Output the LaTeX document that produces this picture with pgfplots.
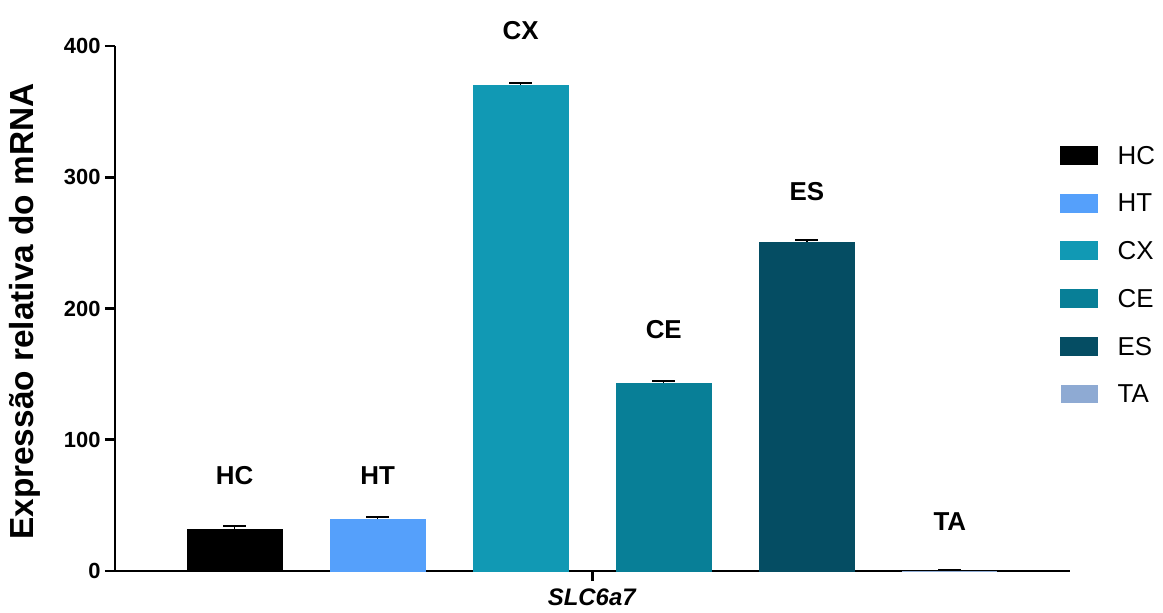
\documentclass[border=0pt]{standalone}
\usepackage{pgfplots}
\pgfplotsset{compat=1.18}
\usepackage{fontspec}
\setmainfont{Liberation Sans}
\definecolor{cHC}{HTML}{000000}
\definecolor{cHT}{HTML}{55A0FB}
\definecolor{cCX}{HTML}{1199B4}
\definecolor{cCE}{HTML}{087F97}
\definecolor{cES}{HTML}{054D63}
\definecolor{cTA}{HTML}{8EAAD3}
\begin{document}
\begin{tikzpicture}
\begin{axis}[
  at={(0,0)}, anchor=south west,
  scale only axis, width=955bp, height=525bp,
  xmin=-0.836, xmax=5.84, ymin=0, ymax=400,
  axis lines=left,
  axis line style={-, line width=2.8bp, black},
  ytick={0,100,200,300,400},
  xtick={2.5}, xticklabels={\textbf{\textit{SLC6a7}}},
  xticklabel style={font=\fontsize{24}{24}\selectfont, yshift=-4bp},
  tick align=outside, major tick length=10bp,
  tick style={line width=2.8bp, black},
  yticklabel style={font=\fontsize{22}{22}\selectfont\bfseries, xshift=-1bp},
  /pgf/number format/assume math mode=true,
  ylabel={\textbf{Expressão relativa do mRNA}},
  ylabel style={at={(axis description cs:-0.094,0.494)}, anchor=center, font=\fontsize{33.5}{33.5}\selectfont},
  ybar, bar width=95bp, bar shift=0pt,
  clip=false,
  legend image code/.code={\fill[#1] (0bp,-9bp) rectangle (37bp,9bp);},
  legend style={draw=none, fill=none, at={(axis description cs:0.9865,0.814)}, anchor=north west,
    font=\fontsize{26}{26}\selectfont, row sep=29.4bp, column sep=20bp,
    nodes={inner sep=0pt, text height=18bp, text depth=0bp}},
  legend cell align=left,
  error bars/y dir=plus, error bars/y explicit,
  error bars/error bar style={line width=1.5bp, black},
  error bars/error mark options={rotate=90, mark size=11.5bp, line width=2bp, black},
]
\addplot[fill=cHC, draw=cHC] coordinates {(0,31.8) +- (0,2.7)};
\addlegendentry{HC}
\addplot[fill=cHT, draw=cHT] coordinates {(1,39.6) +- (0,1.9)};
\addlegendentry{HT}
\addplot[fill=cCX, draw=cCX] coordinates {(2,370.3) +- (0,1.8)};
\addlegendentry{CX}
\addplot[fill=cCE, draw=cCE] coordinates {(3,143.2) +- (0,1.6)};
\addlegendentry{CE}
\addplot[fill=cES, draw=cES] coordinates {(4,250.6) +- (0,1.5)};
\addlegendentry{ES}
\addplot[fill=cTA, draw=none] coordinates {(5,0.1) +- (0,0.5)};
\addlegendentry{TA}
\node[font=\fontsize{26}{26}\selectfont\bfseries] at (axis cs:0,72.4) {HC};
\node[font=\fontsize{26}{26}\selectfont\bfseries] at (axis cs:1,72.4) {HT};
\node[font=\fontsize{26}{26}\selectfont\bfseries] at (axis cs:2,412) {CX};
\node[font=\fontsize{26}{26}\selectfont\bfseries] at (axis cs:3,184) {CE};
\node[font=\fontsize{26}{26}\selectfont\bfseries] at (axis cs:4,289) {ES};
\node[font=\fontsize{26}{26}\selectfont\bfseries] at (axis cs:5,38) {TA};
\end{axis}
\path[use as bounding box] (-115bp,-42bp) rectangle (1048bp,571bp);
\end{tikzpicture}
\end{document}
